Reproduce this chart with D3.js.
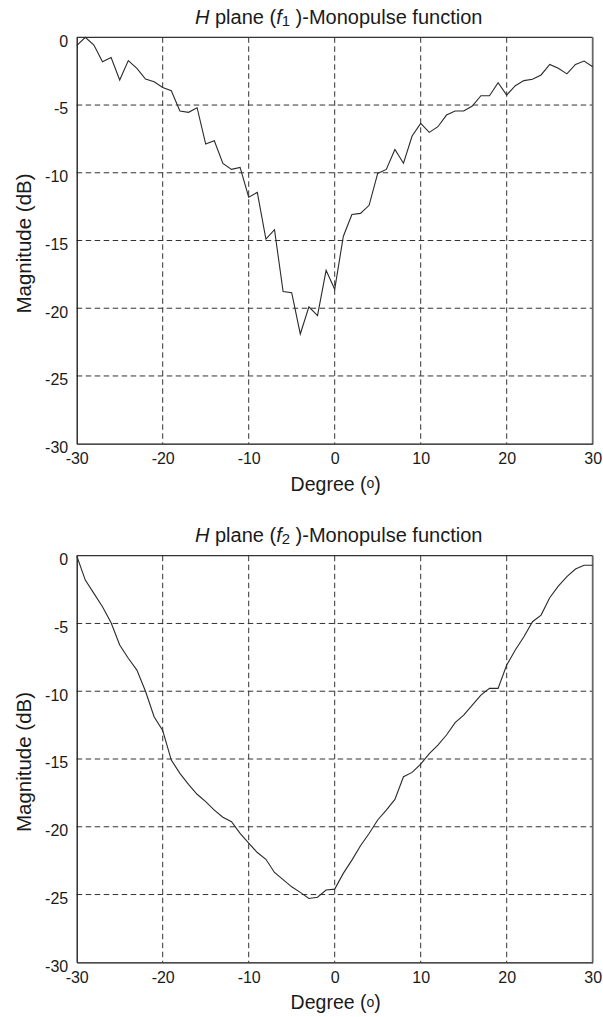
<!DOCTYPE html>
<html>
<head>
<meta charset="utf-8">
<script src="https://cdn.jsdelivr.net/npm/d3@7"></script>
<style>
  html, body { margin: 0; padding: 0; background: #fff; }
  svg { display: block; }
  text { font-family: "Liberation Sans", Arial, Helvetica, sans-serif; fill: #1a1a1a; }
</style>
</head>
<body>
<svg id="chart" width="603" height="1017"></svg>
<script>
// ---- data ----
const degrees = [-30,-29,-28,-27,-26,-25,-24,-23,-22,-21,-20,-19,-18,-17,-16,-15,-14,-13,-12,-11,
  -10,-9,-8,-7,-6,-5,-4,-3,-2,-1,0,1,2,3,4,5,6,7,8,9,10,11,12,13,14,15,16,17,18,19,20,
  21,22,23,24,25,26,27,28,29,30];

const magnitudeF1 = [-0.62,0,-0.57,-1.8,-1.5,-3.15,-1.72,-2.3,-3.08,-3.28,-3.7,-3.94,-5.44,-5.54,-5.2,
  -7.88,-7.64,-9.31,-9.75,-9.6,-11.8,-11.45,-14.9,-14.2,-18.77,-18.85,-21.9,-19.9,-20.55,-17.2,
  -18.6,-14.7,-13.08,-13.0,-12.4,-10.05,-9.75,-8.28,-9.3,-7.29,-6.35,-7.02,-6.6,-5.74,-5.44,
  -5.44,-5.07,-4.31,-4.31,-3.35,-4.26,-3.57,-3.2,-3.1,-2.78,-2.0,-2.29,-2.7,-2.0,-1.75,-2.17];

const magnitudeF2 = [0,-1.8,-2.78,-3.76,-4.95,-6.59,-7.57,-8.44,-10.0,-11.88,-12.9,-15.08,-16.06,-16.87,-17.6,
  -18.15,-18.77,-19.3,-19.63,-20.49,-21.2,-21.9,-22.4,-23.37,-23.9,-24.43,-24.84,-25.29,-25.2,-24.67,
  -24.6,-23.44,-22.46,-21.4,-20.5,-19.5,-18.77,-17.98,-16.31,-15.99,-15.38,-14.6,-13.97,-13.23,-12.32,
  -11.76,-11.02,-10.28,-9.79,-9.79,-8.07,-6.96,-5.98,-4.87,-4.38,-3.1,-2.24,-1.55,-0.98,-0.71,-0.71];

const xTicks = [-30,-20,-10,0,10,20,30];
const yTicks = [0,-5,-10,-15,-20,-25,-30];
const subscripts = ["1","2"];
const xLabel = "Degree (";
const yLabel = "Magnitude (dB)";

// ---- layout ----
const svg = d3.select("#chart");
const left = 76.7, right = 592.7;
const panels = [
  { top: 37.3, bottom: 443.7, values: magnitudeF1, sub: subscripts[0] },
  { top: 555.7, bottom: 962.3, values: magnitudeF2, sub: subscripts[1] }
];
const fmt = d => String(d);

panels.forEach(p => {
  const x = d3.scaleLinear().domain([-30, 30]).range([left, right]);
  const y = d3.scaleLinear().domain([-30, 0]).range([p.bottom, p.top]);
  const g = svg.append("g");

  // grid
  const grid = g.append("g").attr("stroke", "#333").attr("stroke-width", 1)
    .attr("stroke-dasharray", "5.5,3.5").attr("fill", "none");
  xTicks.filter(t => t > -30 && t < 30).forEach(t => {
    grid.append("line").attr("x1", x(t)).attr("x2", x(t)).attr("y1", p.top).attr("y2", p.bottom);
  });
  yTicks.filter(t => t > -30 && t < 0).forEach(t => {
    grid.append("line").attr("x1", left).attr("x2", right).attr("y1", y(t)).attr("y2", y(t));
  });

  // frame top/right
  g.append("line").attr("x1", left).attr("x2", right).attr("y1", p.top).attr("y2", p.top)
    .attr("stroke", "#333").attr("stroke-width", 1.2);
  g.append("line").attr("x1", right).attr("x2", right).attr("y1", p.top).attr("y2", p.bottom)
    .attr("stroke", "#666").attr("stroke-width", 1.8);

  // axes
  const xa = g.append("g").attr("transform", `translate(0,${p.bottom})`)
    .call(d3.axisBottom(x).tickValues(xTicks).tickSize(0).tickPadding(9.2).tickFormat(fmt));
  const ya = g.append("g").attr("transform", `translate(${left},0)`)
    .call(d3.axisLeft(y).tickValues(yTicks).tickSize(0).tickPadding(8.5).tickFormat(fmt));
  [xa, ya].forEach(a => {
    a.select(".domain").attr("stroke", "#111").attr("stroke-width", 1.3);
    a.selectAll("text").attr("font-size", 16).attr("fill", "#1a1a1a")
      .attr("font-family", '"Liberation Sans", Arial, sans-serif');
  });
  ya.selectAll("text").attr("dy", "0.55em");

  // line
  const line = d3.line().x((d, i) => x(degrees[i])).y(d => y(d));
  g.append("path").datum(p.values).attr("d", line)
    .attr("fill", "none").attr("stroke", "#2a2a2a").attr("stroke-width", 1.1)
    .attr("stroke-linejoin", "miter");

  // title
  const t = g.append("text").attr("x", (left + right) / 2 + 4).attr("y", p.top - 13.5)
    .attr("text-anchor", "middle").attr("font-size", 20);
  t.append("tspan").attr("font-style", "italic").text("H");
  t.append("tspan").text(" plane (");
  t.append("tspan").attr("font-style", "italic").text("f");
  t.append("tspan").attr("font-size", 15).attr("dy", 2).text(p.sub);
  t.append("tspan").attr("dy", -2).text(" )-Monopulse function");

  // x label
  const xl = g.append("text").attr("x", (left + right) / 2 + 1).attr("y", p.bottom + 47)
    .attr("text-anchor", "middle").attr("font-size", 19.5);
  xl.append("tspan").text(xLabel);
  xl.append("tspan").attr("font-size", 14).attr("dy", -2.5).text("o");
  xl.append("tspan").attr("dy", 2.5).text(")");

  // y label
  g.append("text").attr("transform", `translate(30.7,${(p.top + p.bottom) / 2 + 3}) rotate(-90)`)
    .attr("text-anchor", "middle").attr("font-size", 20.5).text(yLabel);
});
</script>
</body>
</html>
